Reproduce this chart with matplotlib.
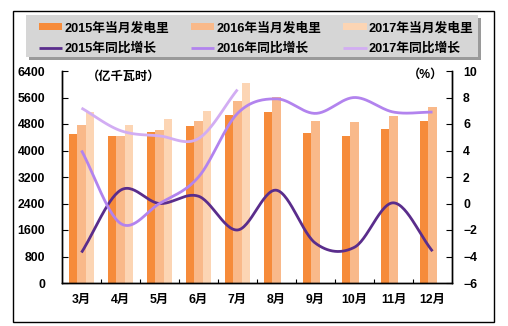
import matplotlib
matplotlib.use("Agg")
import matplotlib.pyplot as plt
import numpy as np
from matplotlib.patches import Rectangle

plt.rcParams['font.family'] = ['Liberation Sans', 'Noto Sans CJK SC']
plt.rcParams['font.weight'] = 'bold'

# ---------------- data ----------------
months = ["3月", "4月", "5月", "6月", "7月", "8月", "9月", "10月", "11月", "12月"]

gen_2015 = [4500, 4440, 4560, 4740, 5070, 5160, 4530, 4450, 4650, 4890]
gen_2016 = [4770, 4440, 4620, 4890, 5500, 5610, 4890, 4860, 5040, 5310]
gen_2017 = [5150, 4770, 4940, 5190, 6040]

yoy_2015 = [-3.7, 1.0, 0.0, 0.55, -2.0, 1.0, -3.0, -3.3, 0.05, -3.6]
yoy_2016 = [4.0, -1.5, 0.0, 2.0, 6.8, 7.9, 6.8, 8.0, 6.9, 6.9]
yoy_2017 = [7.2, 5.5, 5.1, 4.9, 8.6]

bar_colors = ["#F68B3A", "#F9B98A", "#FCD5B4"]
line_colors = ["#5A2D8C", "#B283EE", "#D2ADF3"]


def smooth(y, n=30):
    # Catmull-Rom spline through the points (Excel style smoothed line)
    y = np.asarray(y, dtype=float)
    k = len(y)
    xs, ys = [], []
    for i in range(k - 1):
        p0, p1 = y[i], y[i + 1]
        m0 = (y[i + 1] - y[i - 1]) / 2 if i > 0 else (y[1] - y[0])
        m1 = (y[i + 2] - y[i]) / 2 if i + 2 < k else (y[-1] - y[-2])
        t = np.linspace(0, 1, n, endpoint=(i == k - 2))
        h = (p0 * (2 * t**3 - 3 * t**2 + 1) + m0 * (t**3 - 2 * t**2 + t)
             + p1 * (-2 * t**3 + 3 * t**2) + m1 * (t**3 - t**2))
        xs.append(i + t)
        ys.append(h)
    return np.concatenate(xs), np.concatenate(ys)


fig = plt.figure(figsize=(5.08, 3.26), dpi=100)

# outer frame
fig.patches.append(Rectangle((12.5 / 508, 4.5 / 326), 481 / 508, 311 / 326,
                             transform=fig.transFigure, fill=False,
                             edgecolor="black", linewidth=1))

ax = fig.add_axes([62 / 508, 43 / 326, 390 / 508, 212 / 326])
ax2 = ax.twinx()

x = np.arange(len(months))
w = 0.222
h15 = ax.bar(x - w, gen_2015, w, color=bar_colors[0], label="2015年当月发电里")
h16 = ax.bar(x, gen_2016, w, color=bar_colors[1], label="2016年当月发电里")
h17 = ax.bar(x[:len(gen_2017)] + w, gen_2017, w, color=bar_colors[2],
             label="2017年当月发电里")

lines = []
for vals, c, lab in [(yoy_2015, line_colors[0], "2015年同比增长"),
                     (yoy_2016, line_colors[1], "2016年同比增长"),
                     (yoy_2017, line_colors[2], "2017年同比增长")]:
    sx, sy = smooth(vals)
    ln, = ax2.plot(sx, sy, color=c, linewidth=2, label=lab,
                   solid_capstyle="butt")
    lines.append(ln)

ax.set_xlim(-0.5, len(months) - 0.5)
ax.set_ylim(0, 6400)
ax.set_yticks(np.arange(0, 6401, 800))
ax2.set_ylim(-6, 10)
ax2.set_yticks(np.arange(-6, 11, 2))

ax.set_xticks(x)
ax.set_xticklabels(months)
ax.set_xticks(np.arange(0.5, len(months) - 1, 1), minor=True)
ax.tick_params(axis="x", which="major", length=0, pad=8, labelsize=8.8)
ax.tick_params(axis="x", which="minor", direction="in", length=3, width=0.8)
ax.tick_params(axis="y", direction="in", length=4, width=0.8, labelsize=8.8,
               pad=12)
ax2.tick_params(axis="y", direction="in", length=4, width=0.8, labelsize=8.8,
                pad=8)

for a in (ax, ax2):
    a.spines["top"].set_visible(False)
    for s in ("left", "right", "bottom"):
        a.spines[s].set_linewidth(1)
ax.patch.set_visible(False)

ax.text(0.157, 0.975, "（亿千瓦时）", transform=ax.transAxes,
        ha="center", va="center", fontsize=8.8)
ax2.text(0.933, 0.98, "（%）", transform=ax.transAxes,
         ha="center", va="center", fontsize=8.8)

# legend panel with shadow
fig.patches.append(Rectangle((29 / 508, (326 - 60) / 326), 452 / 508, 42 / 326,
                             transform=fig.transFigure, facecolor="#9a9a9a",
                             edgecolor="none"))
fig.patches.append(Rectangle((26 / 508, (326 - 57) / 326), 452 / 508, 42 / 326,
                             transform=fig.transFigure, facecolor="#d6d6d6",
                             edgecolor="none"))

handles = [h15, lines[0], h16, lines[1], h17, lines[2]]
fig.legend(handles=handles, labels=[hd.get_label() for hd in handles],
           ncol=3, loc="center", bbox_to_anchor=(256 / 508, (326 - 38.5) / 326),
           frameon=False, fontsize=9.2, handlelength=1.85, handleheight=0.45,
           handletextpad=0.15, columnspacing=1.7, labelspacing=0.62,
           borderpad=0)

fig.savefig("out.png", dpi=100)
